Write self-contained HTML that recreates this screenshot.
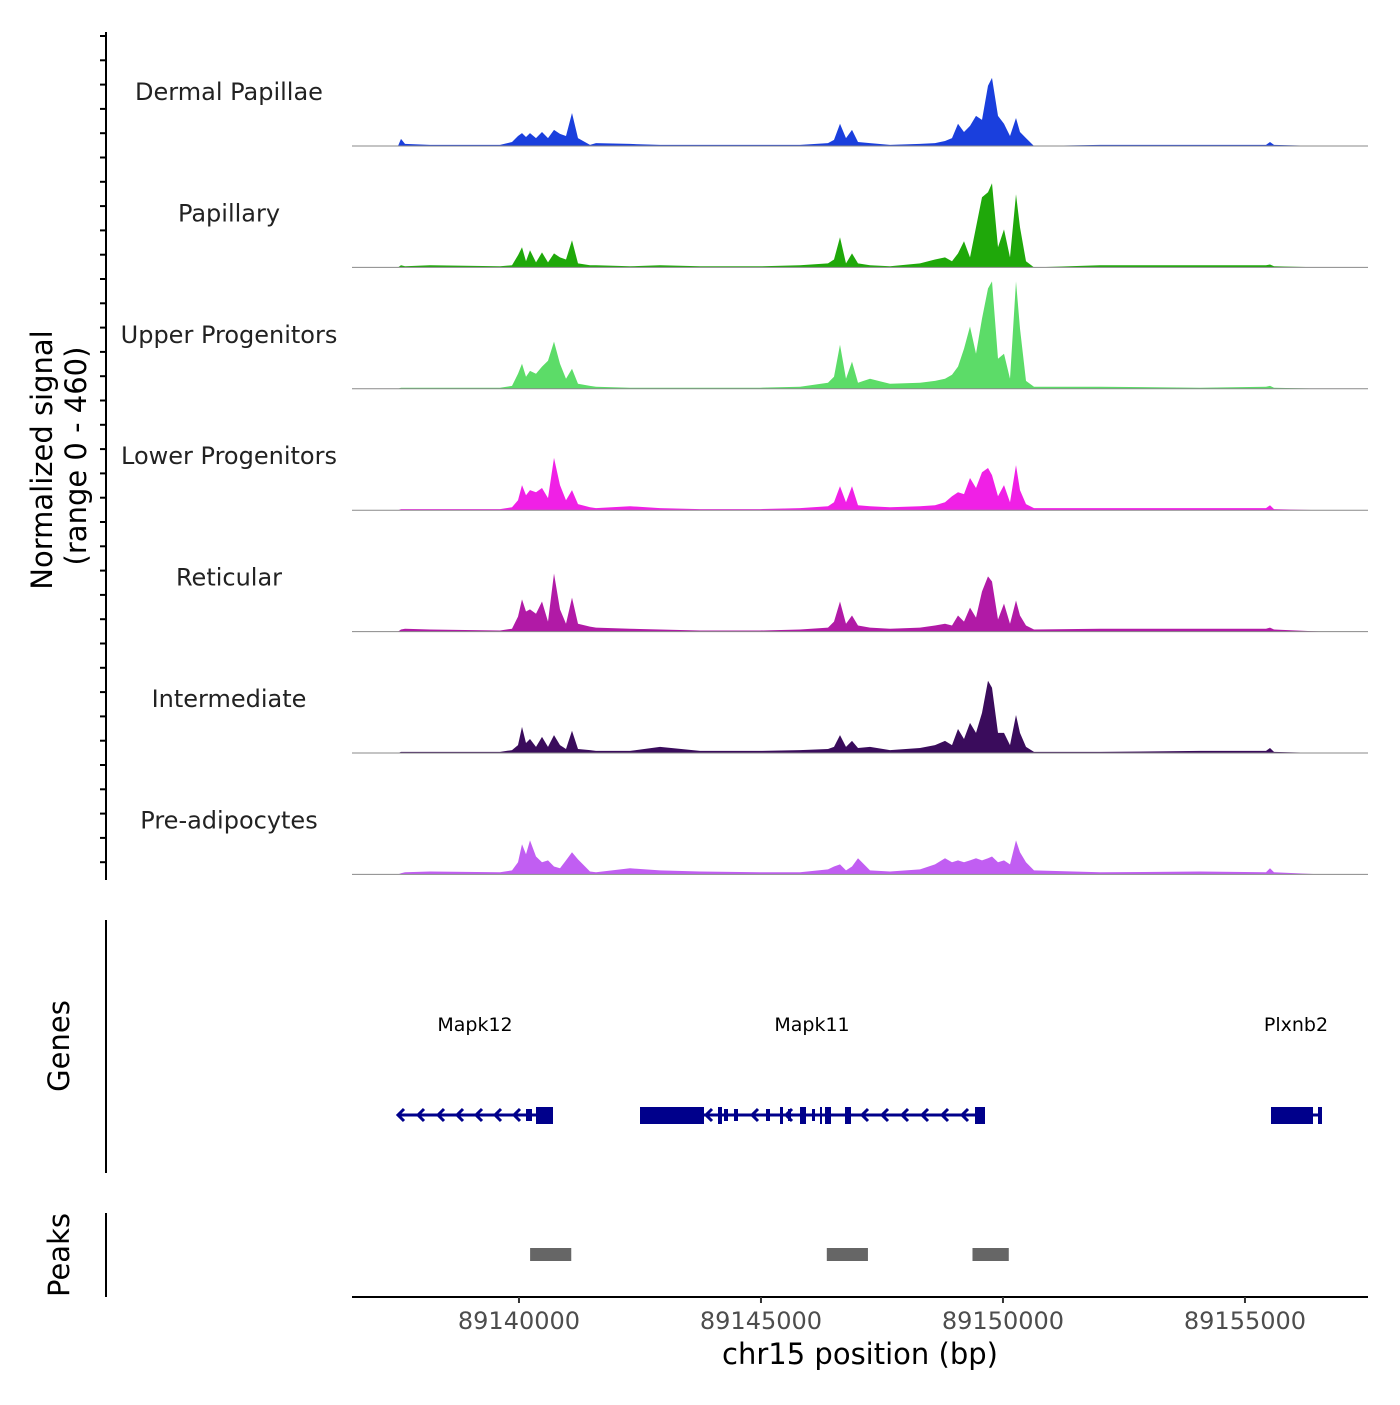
<!DOCTYPE html>
<html><head><meta charset="utf-8"><style>
body{margin:0;background:#fff}
svg text{font-family:"DejaVu Sans","Liberation Sans",sans-serif}
</style></head><body>
<svg id="chart" width="1400" height="1400" viewBox="0 0 1400 1400" xmlns="http://www.w3.org/2000/svg"></svg>
<script>
const trackNames = ["Dermal Papillae","Papillary","Upper Progenitors","Lower Progenitors","Reticular","Intermediate","Pre-adipocytes"];
const trackColors = ["#1a3fdd","#1fa80a","#5cdc68","#f020e6","#b11aa6","#3a0c5c","#c15ef2"];
const pxPts = [398,401,405,430,500,512,518,522,526,530,536,542,548,554,560,566,572,578,590,596,630,660,700,760,800,828,834,840,846,852,858,870,890,920,935,945,952,958,964,970,976,982,988,992,998,1004,1010,1016,1020,1026,1034,1100,1200,1266,1270,1274,1322];
const positions = pxPts.map(p => Math.round(89136550 + (p - 352) / 0.0484));
const sigDermal = [0,27,8,4,4,15,38,49,34,49,30,53,30,61,46,38,125,30,4,11,8,4,4,4,4,11,23,84,30,61,15,11,4,8,11,19,30,84,53,76,114,99,228,258,114,84,38,106,53,30,0,4,4,4,15,4,0];
const sigPapillary = [0,8,4,8,4,8,46,76,23,65,19,57,19,53,38,30,103,15,8,8,4,8,4,4,8,15,30,114,15,53,15,8,4,15,30,38,23,53,99,38,152,266,285,319,76,144,38,277,152,23,0,8,8,8,11,4,0];
const sigUpper = [0,4,4,4,4,11,57,95,46,68,57,84,106,179,95,38,76,19,11,8,4,4,4,4,8,23,46,167,38,103,23,38,19,23,30,38,53,84,152,236,133,266,380,407,114,133,38,407,228,30,8,8,4,8,11,4,0];
const sigLower = [0,4,4,4,4,11,38,95,57,76,68,84,46,198,95,38,76,23,11,8,15,8,4,4,8,15,30,91,30,91,19,15,11,15,19,30,53,68,61,122,84,144,160,133,53,95,30,171,76,23,8,8,8,8,19,4,0];
const sigReticular = [0,8,11,8,4,11,57,122,76,84,68,114,38,220,84,30,129,30,19,15,11,8,4,4,8,15,38,114,30,61,23,15,11,15,23,30,23,61,38,91,53,152,209,190,46,106,30,118,61,23,8,11,11,11,15,8,0];
const sigIntermediate = [0,4,4,4,4,11,30,99,38,53,23,61,23,68,30,15,84,15,11,8,8,23,8,8,11,15,23,68,23,46,19,23,11,19,30,46,30,91,53,114,76,152,274,247,76,76,30,144,76,23,4,4,8,8,19,4,0];
const sigPreadipo = [0,4,8,11,8,15,46,114,76,129,68,46,53,30,23,53,84,57,11,8,23,15,11,8,8,19,30,38,15,30,61,15,11,19,38,61,46,53,46,53,61,53,61,68,46,53,38,129,84,46,15,8,11,8,23,8,0];
const seriesList = [sigDermal,sigPapillary,sigUpper,sigLower,sigReticular,sigIntermediate,sigPreadipo];
const xTicks = [89140000,89145000,89150000,89155000];
const peakStarts = [89140230,89146360,89149370];
const peakEnds = [89141080,89147210,89150120];

const svg = document.getElementById('chart');
const NS = 'http://www.w3.org/2000/svg';
const X0 = 352, X1 = 1368, BP0 = 89136550, BP1 = 89157542;
const xs = bp => X0 + (bp - BP0) / (BP1 - BP0) * (X1 - X0);
const yMax = 460, trackH = 121.4, firstBase = 146;
function mk(tag, attrs, parent){const e=document.createElementNS(NS,tag);for(const k in attrs)e.setAttribute(k,attrs[k]);(parent||svg).appendChild(e);return e;}

seriesList.forEach((vals, t) => {
  const base = firstBase + t * trackH;
  const ys = v => base - v / yMax * trackH;
  let d = 'M' + xs(positions[0]) + ',' + base;
  vals.forEach((v, i) => { d += ' L' + xs(positions[i]).toFixed(1) + ',' + ys(v).toFixed(1); });
  d += ' L' + xs(positions[positions.length-1]) + ',' + base + ' Z';
  const p = mk('path', {d: d, fill: trackColors[t]});
  
  
  const l = mk('line', {x1: X0, x2: X1, y1: base, y2: base, stroke: '#8a8a8a', 'stroke-width': 1});
  
  
  const tx = mk('text', {x: 229, y: base - 46, 'font-size': 24, 'text-anchor': 'middle', fill: '#222'});
  tx.textContent = trackNames[t];
  
  
});

mk('line', {x1:106,x2:106,y1:32,y2:880,stroke:'#000','stroke-width':2,});
for (let y = 36; y <= 880; y += 24.3) mk('line',{x1:100,x2:106,y1:y,y2:y,stroke:'#000','stroke-width':2});
mk('line', {x1:106,x2:106,y1:920,y2:1173,stroke:'#000','stroke-width':2,});
mk('line', {x1:106,x2:106,y1:1213,y2:1297,stroke:'#000','stroke-width':2,});

let g = mk('text',{transform:'translate(52,460) rotate(-90)','font-size':29,'text-anchor':'middle',});
g.textContent='Normalized signal';
g = mk('text',{transform:'translate(86,456) rotate(-90)','font-size':29,'text-anchor':'middle',});
g.textContent='(range 0 - 460)';
g = mk('text',{transform:'translate(69,1046) rotate(-90)','font-size':29,'text-anchor':'middle',});
g.textContent='Genes';
g = mk('text',{transform:'translate(69,1255) rotate(-90)','font-size':29,'text-anchor':'middle',});
g.textContent='Peaks';

const navy = '#00008b';
function gene(name, x1, x2, labelX, exons, chevrons){
  const gg = mk('g',{});
  mk('line',{x1:x1,x2:x2,y1:1115,y2:1115,stroke:navy,'stroke-width':3},gg);
  exons.forEach(e=>mk('rect',{x:e[0],y:e[2]?1109:1107,width:e[1]-e[0],height:e[2]?12:17,fill:navy},gg));
  chevrons.forEach(c=>mk('path',{d:`M${c+6},1109 L${c},1115 L${c+6},1121`,stroke:navy,'stroke-width':3,fill:'none'},gg));
  const t = mk('text',{x:labelX,y:1031,'font-size':19,'text-anchor':'middle',fill:'#000'},gg);
  t.textContent=name;
}
gene('Mapk12',398,553,475,[[526,532,1],[536,553]],[398,418,438,457,476,495,514]);
gene('Mapk11',640,985,812,[[640,704],[718,722],[724,728,1],[734,738,1],[766,770,1],[780,783],[788,791,1],[800,806],[812,815,1],[820,822],[825,831],[845,851],[975,985]],[706,752,786,862,882,902,922,942,962]);
gene('Plxnb2',1271,1322,1296,[[1271,1313],[1318,1322]],[]);

peakStarts.forEach((s,i)=>{
  const r = mk('rect',{x:xs(s),y:1248,width:xs(peakEnds[i])-xs(s),height:13,fill:'#666'});
  
  
});

mk('line',{x1:X0,x2:X1,y1:1297,y2:1297,stroke:'#000','stroke-width':2,});
xTicks.forEach(v=>{
  mk('line',{x1:xs(v),x2:xs(v),y1:1297,y2:1303,stroke:'#333','stroke-width':2});
  const t = mk('text',{x:xs(v),y:1329,'font-size':24,'text-anchor':'middle',fill:'#4d4d4d'});
  t.textContent=v;
  
  
});
g = mk('text',{x:860,y:1364,'font-size':29,'text-anchor':'middle',});
g.textContent='chr15 position (bp)';
</script>
</body></html>
